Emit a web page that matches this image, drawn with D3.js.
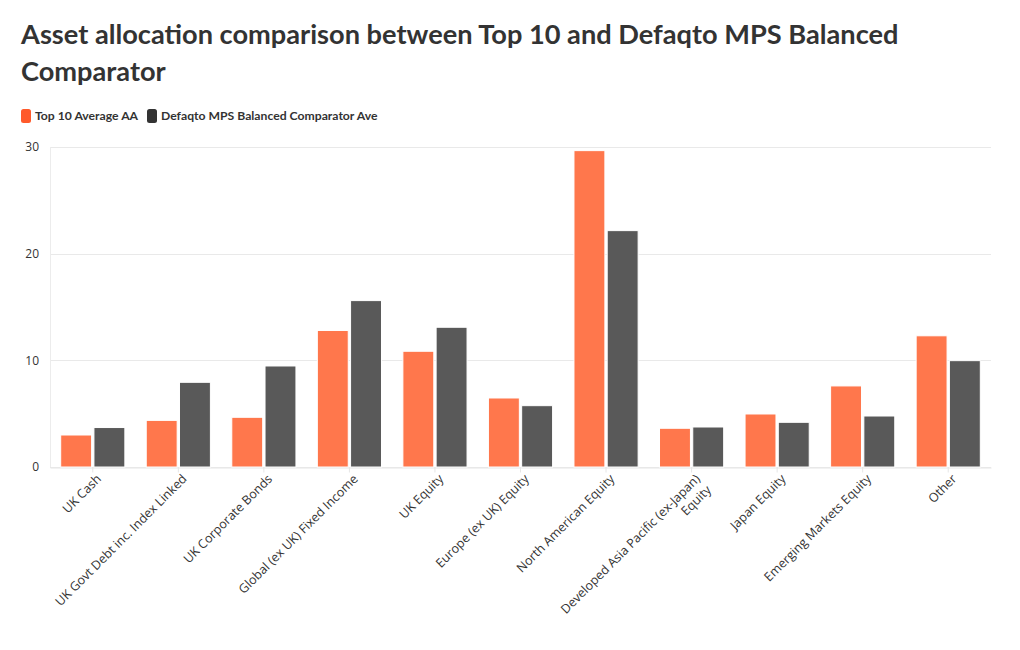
<!DOCTYPE html>
<html>
<head>
<meta charset="utf-8">
<script src="https://cdn.jsdelivr.net/npm/d3@7"></script>
<style>
  html, body { margin: 0; padding: 0; background: #fff; }
  svg { display: block; }
</style>
</head>
<body>
<svg id="chart" width="1020" height="650"></svg>
<script>
const categories = [
  "UK Cash",
  "UK Govt Debt inc. Index Linked",
  "UK Corporate Bonds",
  "Global (ex UK) Fixed Income",
  "UK Equity",
  "Europe (ex UK) Equity",
  "North American Equity",
  "Developed Asia Pacific (ex-Japan) Equity",
  "Japan Equity",
  "Emerging Markets Equity",
  "Other"
];
const seriesNames = ["Top 10 Average AA", "Defaqto MPS Balanced Comparator Ave"];
const top10 = [3.0, 4.37, 4.66, 12.8, 10.85, 6.47, 29.66, 3.63, 4.97, 7.6, 12.3];
const defaqto = [3.7, 7.94, 9.47, 15.6, 13.1, 5.75, 22.16, 3.75, 4.19, 4.78, 9.97];
const yTicks = [0, 10, 20, 30];
const labelLines = {
  "Developed Asia Pacific (ex-Japan) Equity": ["Developed Asia Pacific (ex-Japan)", "Equity"]
};

const barColors = ["#FF774C", "#595959"];
const legendColors = ["#FF5A2B", "#333333"];

const svg = d3.select("#chart");
const W = 1020, H = 650;
const plot = {left: 50, right: 991, top: 147, bottom: 467};

// Title
const line1 = "Asset allocation comparison between Top 10 and Defaqto MPS Balanced";
const line2 = "Comparator";
const tg = svg.append("g");
const t1 = tg.append("text").attr("x", 21).attr("y", 44)
  .style("font-family", "Lato, 'Open Sans', sans-serif").style("font-weight", 700)
  .style("font-size", "27px").attr("fill", "#333").text(line1);
const w = t1.node().getComputedTextLength();
const fs = 27 * 878 / w;
t1.style("font-size", fs + "px");
tg.append("text").attr("x", 21).attr("y", 81)
  .style("font-family", "Lato, 'Open Sans', sans-serif").style("font-weight", 700)
  .style("font-size", fs + "px").attr("fill", "#333").text(line2);

// Legend
const lg = svg.append("g").attr("transform", "translate(21,109)");
const legendStarts = [0, 126];
seriesNames.forEach((n, i) => {
  const g = lg.append("g").attr("transform", `translate(${legendStarts[i]},0)`);
  g.append("rect").attr("x", 0).attr("y", 0).attr("width", 10).attr("height", 14)
    .attr("rx", 2.5).attr("fill", legendColors[i]);
  g.append("text").attr("x", 14).attr("y", 11)
    .style("font-family", "Lato, sans-serif").style("font-weight", 700)
    .style("font-size", "12.2px").attr("fill", "#333").text(n);
});

// Scales
const x0 = d3.scaleBand().domain(categories).range([plot.left, plot.right]).paddingInner(0).paddingOuter(0);
const y = d3.scaleLinear().domain([0, 30]).range([plot.bottom, plot.top]);
const x1 = d3.scaleBand().domain([0, 1]).range([x0.bandwidth() * 0.125, x0.bandwidth() * 0.875]).paddingInner(0.07);

// Grid
const grid = svg.append("g");
grid.selectAll("line").data(yTicks).join("line")
  .attr("x1", plot.left).attr("x2", plot.right)
  .attr("y1", d => Math.round(y(d)) + 0.5).attr("y2", d => Math.round(y(d)) + 0.5)
  .attr("stroke", "#e9e9e9").attr("stroke-width", 1);
grid.append("line").attr("x1", plot.left + 0.5).attr("x2", plot.left + 0.5)
  .attr("y1", y(30)).attr("y2", y(0)).attr("stroke", "#ececec");

// Y axis labels
const yAxis = d3.axisLeft(y).tickValues(yTicks).tickSize(0).tickPadding(11);
const ya = svg.append("g").attr("transform", `translate(${plot.left},0)`).call(yAxis);
ya.select(".domain").remove();
ya.selectAll("text").style("font-family", "'Open Sans', sans-serif").style("font-size", "12px").attr("fill", "#333");

// X axis
const xAxis = d3.axisBottom(x0).tickSize(5).tickSizeOuter(0).tickPadding(6);
const xa = svg.append("g").attr("transform", `translate(0,${Math.round(y(0)) + 0.5})`).call(xAxis);
xa.select(".domain").attr("stroke", "#e6e6e6");
xa.selectAll(".tick line").attr("stroke", "#e6e6e6");
xa.selectAll(".tick text").each(function(d) {
  const t = d3.select(this);
  const lines = labelLines[d] || [d];
  t.text(null);
  t.attr("text-anchor", "end")
    .attr("transform", "translate(3,6) rotate(-45)")
    .attr("y", 0).attr("dy", null)
    .style("font-family", "'Open Sans', sans-serif").style("font-size", "12.5px").attr("fill", "#333");
  lines.forEach((l, i) => {
    t.append("tspan").attr("x", 0).attr("dy", i === 0 ? "0.7em" : "1.25em").text(l);
  });
});

// Bars
const groups = svg.append("g").selectAll("g").data(categories).join("g")
  .attr("transform", d => `translate(${x0(d)},0)`);
groups.selectAll("rect").data((d, i) => [top10[i], defaqto[i]]).join("rect")
  .attr("x", (v, j) => x1(j))
  .attr("width", x1.bandwidth())
  .attr("y", v => y(v))
  .attr("height", v => y(0) - y(v))
  .attr("fill", (v, j) => barColors[j])
  .attr("stroke", "#fff").attr("stroke-width", 1);
</script>
</body>
</html>
